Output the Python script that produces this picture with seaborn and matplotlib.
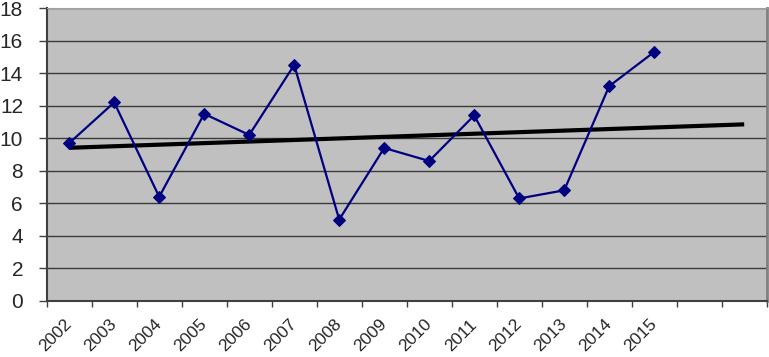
import numpy as np
import pandas as pd
import matplotlib.pyplot as plt
import seaborn as sns

years = ['2002', '2003', '2004', '2005', '2006', '2007', '2008', '2009',
         '2010', '2011', '2012', '2013', '2014', '2015']
values = [9.7, 12.2, 6.4, 11.5, 10.2, 14.5, 5.0, 9.4, 8.6, 11.4, 6.3, 6.8, 13.2, 15.3]
n_forecast = 2  # trendline runs two empty categories forward

sns.set_style("ticks")
plt.rcParams['font.family'] = ['Liberation Sans', 'DejaVu Sans']

df = pd.DataFrame({'pos': np.arange(len(years)), 'val': values})
n_cat = len(years) + n_forecast

fig, ax = plt.subplots(figsize=(7.69, 3.57), dpi=100)
fig.subplots_adjust(left=46.7 / 769, right=766.7 / 769, top=1 - 8 / 357, bottom=1 - 301 / 357)
ax.set_facecolor('#c0c0c0')

# linear trend, extended into the forecast categories
k, b = np.polyfit(df['pos'], df['val'], 1)
tx = np.array([0, n_cat - 1])
ax.plot(tx, k * tx + b, color='black', lw=3, zorder=3, solid_capstyle='butt')

sns.lineplot(data=df, x='pos', y='val', ax=ax, color='#000080', lw=1.6,
             marker='D', markersize=6.5, markeredgecolor='#000080', zorder=4)

ax.set_xlim(-0.5, n_cat - 0.5)
ax.set_ylim(0, 18)
ax.set_yticks(np.arange(0, 19, 2))
ax.yaxis.grid(True, color='#3a3a3a', lw=1)
ax.set_axisbelow(True)

ax.set_xticks(np.arange(-0.5, n_cat, 1))
ax.set_xticklabels([])
ax.set_xticks(np.arange(len(years)), minor=True)
ax.set_xticklabels(years, minor=True, rotation=45, ha='right', va='center',
                   rotation_mode='anchor', fontsize=12.5)
ax.tick_params(axis='x', which='minor', length=0, pad=15)
ax.tick_params(axis='x', which='major', length=4.5, color='#404040', width=1)
ax.tick_params(axis='y', length=6, color='#404040', width=1, labelsize=15, pad=11)

ax.set_xlabel('')
ax.set_ylabel('')
for s in ['left', 'bottom']:
    ax.spines[s].set_color('#404040')
    ax.spines[s].set_linewidth(1.5)
ax.spines['top'].set_color('#a0a0a0')
ax.spines['right'].set_color('#808080')
ax.spines['right'].set_linewidth(2)

plt.savefig('out.png', dpi=100)
